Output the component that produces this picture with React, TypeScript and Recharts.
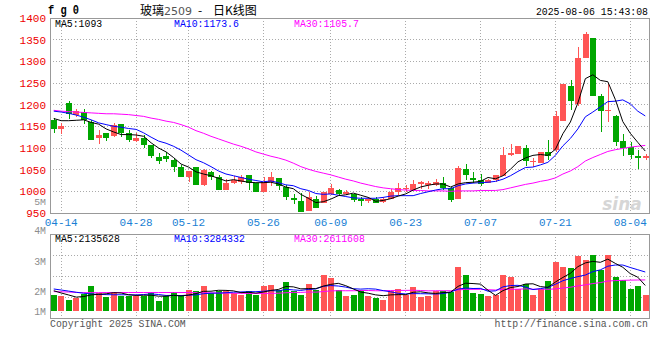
import React from 'react';
import { ComposedChart, Bar, Line, XAxis, YAxis, CartesianGrid, ReferenceArea, Cell } from 'recharts';

const dates = [
  '04-11', '04-14', '04-15', '04-16', '04-17', '04-18', '04-21', '04-22', '04-23', '04-24',
  '04-25', '04-28', '04-29', '04-30', '05-06', '05-07', '05-08', '05-09', '05-12', '05-13',
  '05-14', '05-15', '05-16', '05-19', '05-20', '05-21', '05-22', '05-23', '05-26', '05-27',
  '05-28', '05-29', '05-30', '06-03', '06-04', '06-05', '06-06', '06-09', '06-10', '06-11',
  '06-12', '06-13', '06-16', '06-17', '06-18', '06-19', '06-20', '06-23', '06-24', '06-25',
  '06-26', '06-27', '06-30', '07-01', '07-02', '07-03', '07-04', '07-07', '07-08', '07-09',
  '07-10', '07-11', '07-14', '07-15', '07-16', '07-17', '07-18', '07-21', '07-22', '07-23',
  '07-24', '07-25', '07-28', '07-29', '07-30', '07-31', '08-01', '08-04', '08-05', '08-06',
];
const tickDates = ['04-14', '04-28', '05-12', '05-26', '06-09', '06-23', '07-07', '07-21', '08-04'];

const open = [
  1164, 1144, 1204, 1177, 1184, 1159, 1122, 1135, 1128, 1155,
  1135, 1117, 1124, 1106, 1079, 1082, 1072, 1057, 1034, 1057,
  1015, 1044, 1034, 1004, 1019, 1021, 1037, 1019, 999, 1021,
  1030, 1009, 984, 977, 955, 983, 974, 995, 1002, 995,
  995, 983, 978, 983, 976, 982, 999, 1005, 1004, 1016,
  1015, 1015, 1019, 1007, 982, 1052, 1031, 1026, 1019, 1026,
  1035, 1085, 1087, 1100, 1067, 1066, 1091, 1095, 1162, 1242,
  1202, 1308, 1355, 1219, 1185, 1173, 1116, 1103, 1081, 1078,
];
const high = [
  1169, 1158, 1209, 1190, 1189, 1164, 1141, 1135, 1158, 1155,
  1141, 1134, 1130, 1106, 1088, 1091, 1077, 1060, 1047, 1057,
  1051, 1048, 1037, 1028, 1036, 1037, 1037, 1019, 1032, 1045,
  1030, 1015, 993, 997, 999, 989, 999, 1018, 1006, 1002,
  995, 987, 987, 987, 987, 1006, 1020, 1014, 1026, 1025,
  1025, 1028, 1032, 1009, 1058, 1063, 1044, 1040, 1028, 1038,
  1102, 1109, 1105, 1108, 1078, 1091, 1118, 1185, 1248, 1258,
  1334, 1368, 1355, 1225, 1248, 1177, 1133, 1113, 1095, 1087,
];
const low = [
  1135, 1132, 1168, 1172, 1156, 1119, 1110, 1117, 1126, 1126,
  1115, 1113, 1100, 1077, 1064, 1067, 1045, 1034, 1022, 1015,
  1013, 1026, 1002, 1004, 1017, 1017, 1003, 998, 999, 1012,
  1003, 979, 970, 952, 955, 961, 973, 991, 989, 991,
  976, 967, 972, 972, 974, 982, 991, 998, 1002, 1005,
  1005, 1013, 1004, 976, 982, 1026, 1019, 1013, 1019, 1021,
  1035, 1082, 1087, 1059, 1057, 1066, 1073, 1091, 1162, 1187,
  1198, 1308, 1220, 1137, 1160, 1105, 1081, 1074, 1051, 1072,
];
const close = [
  1145, 1150, 1179, 1185, 1164, 1119, 1130, 1122, 1152, 1134,
  1119, 1122, 1106, 1081, 1070, 1075, 1056, 1034, 1047, 1015,
  1049, 1034, 1004, 1019, 1027, 1034, 1019, 999, 1021, 1032,
  1013, 986, 980, 953, 987, 962, 999, 1007, 994, 999,
  980, 977, 982, 974, 983, 999, 1007, 1007, 1017, 1021,
  1019, 1022, 1007, 981, 1054, 1038, 1026, 1018, 1026, 1038,
  1084, 1089, 1105, 1070, 1069, 1091, 1081, 1174, 1248, 1208,
  1307, 1362, 1220, 1185, 1188, 1114, 1100, 1085, 1076, 1081,
];

const ma5 = [
  1168, 1163, 1163, 1164, 1165, 1159, 1155, 1144, 1137, 1131,
  1131, 1130, 1127, 1112, 1100, 1091, 1078, 1063, 1056, 1045,
  1040, 1036, 1030, 1024, 1027, 1024, 1021, 1020, 1020, 1021,
  1017, 1010, 1006, 993, 984, 974, 976, 982, 990, 992,
  996, 991, 986, 977, 979, 983, 989, 994, 1003, 1010,
  1014, 1017, 1017, 1010, 1017, 1020, 1021, 1023, 1032, 1029,
  1036, 1051, 1068, 1077, 1083, 1085, 1083, 1097, 1133, 1160,
  1204, 1260, 1269, 1256, 1253, 1212, 1161, 1134, 1113, 1093,
];
const ma10 = [
  1185, 1183, 1180, 1176, 1171, 1165, 1158, 1154, 1150, 1148,
  1145, 1143, 1135, 1125, 1116, 1111, 1104, 1095, 1084, 1073,
  1066, 1057, 1047, 1040, 1036, 1032, 1028, 1025, 1022, 1024,
  1020, 1015, 1013, 1006, 1002, 995, 993, 994, 991, 988,
  985, 984, 984, 984, 986, 989, 990, 990, 990, 995,
  999, 1003, 1006, 1006, 1013, 1017, 1019, 1020, 1021, 1023,
  1028, 1036, 1046, 1055, 1056, 1061, 1067, 1083, 1105, 1122,
  1144, 1172, 1183, 1195, 1207, 1208, 1211, 1202, 1185, 1174,
];
const ma30 = [
  1187, 1185, 1184, 1183, 1182, 1181, 1180, 1179, 1179, 1178,
  1177, 1175, 1173, 1169, 1166, 1162, 1159, 1154, 1148, 1140,
  1134, 1127, 1121, 1115, 1109, 1104, 1098, 1091, 1086, 1081,
  1077, 1072, 1065, 1057, 1051, 1046, 1042, 1038, 1033, 1028,
  1024, 1019, 1015, 1011, 1008, 1006, 1004, 1003, 1002, 1002,
  1001, 1001, 1001, 1000, 1001, 1001, 1001, 1002, 1002, 1002,
  1004, 1008, 1012, 1016, 1019, 1023, 1026, 1031, 1040, 1047,
  1057, 1070, 1078, 1085, 1092, 1096, 1099, 1102, 1104, 1106,
];

// volume in millions
const volume = [
  1.36, 1.21, 0.93, 1.07, 1.41, 2.06, 1.5, 1.13, 1.55, 1.27,
  1.27, 1.21, 1.27, 1.55, 0.85, 1.27, 1.55, 1.21, 1.72, 1.69,
  2.12, 1.5, 1.64, 1.64, 1.5, 1.36, 1.64, 1.3, 2.12, 2.2,
  1.72, 2.4, 1.64, 1.3, 2.29, 1.72, 3.05, 2.77, 1.78, 1.27,
  1.36, 1.72, 1.27, 1.07, 0.93, 1.69, 1.86, 1.36, 1.98, 1.13,
  1.21, 1.64, 1.69, 1.58, 3.67, 3.05, 1.5, 1.44, 1.21, 1.3,
  3.05, 2.82, 1.86, 2.29, 1.36, 1.86, 2.54, 4.1, 3.67, 3.62,
  4.6, 4.27, 4.75, 3.47, 4.75, 2.82, 2.63, 1.86, 2.12, 1.36,
];
const vma5 = [
  1.69, 1.5, 1.33, 1.15, 1.2, 1.34, 1.39, 1.43, 1.53, 1.5,
  1.35, 1.29, 1.31, 1.31, 1.23, 1.23, 1.3, 1.25, 1.32, 1.45,
  1.64, 1.65, 1.73, 1.72, 1.68, 1.53, 1.56, 1.49, 1.58, 1.72,
  1.8, 2.05, 2.02, 1.85, 1.87, 1.87, 2.08, 2.23, 2.32, 2.12,
  1.85, 1.58, 1.48, 1.34, 1.27, 1.34, 1.36, 1.36, 1.56, 1.6,
  1.51, 1.46, 1.53, 1.57, 2.06, 2.33, 2.3, 2.25, 1.73, 1.3,
  1.7, 1.96, 2.05, 2.26, 2.28, 2.04, 1.98, 2.43, 2.82, 3.17,
  3.73, 4.05, 4.18, 4.1, 4.37, 4.01, 3.68, 3.14, 2.84, 2.14,
];
const vma10 = [
  1.84, 1.75, 1.66, 1.56, 1.48, 1.42, 1.38, 1.36, 1.35, 1.35,
  1.35, 1.34, 1.37, 1.42, 1.37, 1.29, 1.3, 1.28, 1.32, 1.34,
  1.44, 1.48, 1.49, 1.52, 1.57, 1.59, 1.61, 1.61, 1.65, 1.7,
  1.67, 1.81, 1.76, 1.72, 1.8, 1.84, 2.07, 2.13, 2.09, 2.0,
  1.86, 1.83, 1.86, 1.83, 1.7, 1.6, 1.47, 1.42, 1.45, 1.44,
  1.43, 1.41, 1.45, 1.57, 1.83, 1.92, 1.88, 1.89, 1.65, 1.68,
  2.02, 2.13, 2.15, 2.0, 1.79, 1.87, 1.97, 2.24, 2.54, 2.73,
  2.89, 3.02, 3.31, 3.46, 3.77, 3.87, 3.87, 3.66, 3.47, 3.28,
];
const vma30 = [
  1.62, 1.6, 1.58, 1.55, 1.53, 1.53, 1.53, 1.54, 1.54, 1.54,
  1.54, 1.54, 1.54, 1.54, 1.54, 1.54, 1.54, 1.54, 1.54, 1.53,
  1.52, 1.51, 1.5, 1.49, 1.48, 1.47, 1.46, 1.46, 1.46, 1.47,
  1.48, 1.52, 1.55, 1.55, 1.58, 1.57, 1.62, 1.68, 1.69, 1.69,
  1.69, 1.71, 1.71, 1.69, 1.69, 1.71, 1.72, 1.72, 1.73, 1.71,
  1.68, 1.69, 1.69, 1.69, 1.76, 1.81, 1.81, 1.81, 1.78, 1.75,
  1.8, 1.81, 1.82, 1.85, 1.82, 1.83, 1.81, 1.85, 1.92, 1.99,
  2.1, 2.19, 2.3, 2.38, 2.51, 2.55, 2.57, 2.59, 2.6, 2.61,
];

const priceTicks = [950, 1000, 1050, 1100, 1150, 1200, 1250, 1300, 1350, 1400];
const volGridTicks = [1.16, 2.94, 4.72];
const volLabels = ['5M', '4M', '3M', '2M', '1M'];

const RED = '#ff5555';
const GREEN = '#00a600';
const BLUE_TICK = '#1a7fd4';
const MONO = '"Liberation Mono", "DejaVu Sans Mono", monospace';

const rows = dates.map((d, i) => ({
  i,
  date: d,
  open: open[i],
  high: high[i],
  low: low[i],
  close: close[i],
  range: [low[i], high[i]],
  up: close[i] >= open[i],
  ma5: ma5[i],
  ma10: ma10[i],
  ma30: ma30[i],
  vol: volume[i],
  vma5: vma5[i],
  vma10: vma10[i],
  vma30: vma30[i],
}));

const tickIdx = tickDates.map((d) => dates.indexOf(d));

const Candle = (props: any) => {
  const { x, y, width, height, payload } = props;
  if (x == null || y == null) return null;
  const { open: o, close: c, high: h, low: l } = payload;
  const color = c >= o ? RED : GREEN;
  const k = h === l ? 0 : height / (h - l);
  const bodyTop = y + (h - Math.max(o, c)) * k;
  const bodyH = Math.max(1, Math.abs(o - c) * k);
  const left = Math.round(x);
  return (
    <g shapeRendering="crispEdges">
      <rect x={left + Math.floor(width / 2)} y={y} width={1} height={Math.max(1, height)} fill={color} />
      <rect x={left} y={bodyTop} width={width} height={bodyH} fill={color} />
    </g>
  );
};

const MonoText = ({ x, y, children, fill = '#000', anchor = 'start', size = 10.5 }: any) => (
  <text
    x={x}
    y={y}
    fill={fill}
    fontFamily={MONO}
    fontSize={size}
    textAnchor={anchor}
    textLength={String(children).length * 5.9}
    lengthAdjust="spacingAndGlyphs"
  >
    {children}
  </text>
);

export default function App() {
  const last = rows.length - 1;
  return (
    <div style={{ position: 'absolute', left: 0, top: 0, width: 660, height: 360, background: '#fff' }}>
      <div style={{ position: 'absolute', left: 0, top: 0 }}>
        <ComposedChart width={660} height={230} data={rows} margin={{ top: 18, right: 11, left: 0, bottom: 0 }}>
          <CartesianGrid stroke="#aaaaaa" strokeDasharray="1 2" shapeRendering="crispEdges" />
          <XAxis
            dataKey="i"
            type="number"
            domain={[-0.5, 79.5]}
            ticks={tickIdx}
            interval={0}
            tickFormatter={(v: number) => dates[v]}
            height={17}
            tickLine={false}
            axisLine={false}
            tickSize={0}
            tickMargin={5}
            tick={{ fill: BLUE_TICK, fontSize: 11, fontFamily: MONO }}
            allowDataOverflow
          />
          <YAxis
            type="number"
            domain={[950, 1400]}
            ticks={priceTicks}
            interval={0}
            width={50}
            tickLine={false}
            axisLine={false}
            tickSize={0}
            tickMargin={4}
            tick={{ fill: '#ee0000', fontSize: 11, fontFamily: MONO }}
            allowDataOverflow
          />
          <ReferenceArea x1={-0.5} x2={79.5} y1={950} y2={1400} fill="none" stroke="#999" ifOverflow="visible" shapeRendering="crispEdges" />
          <Bar dataKey="range" barSize={6} shape={<Candle />} isAnimationActive={false} />
          <Line type="linear" dataKey="ma30" stroke="#ff00ff" strokeWidth={1} dot={false} isAnimationActive={false} />
          <Line type="linear" dataKey="ma10" stroke="#0000ff" strokeWidth={1} dot={false} isAnimationActive={false} />
          <Line type="linear" dataKey="ma5" stroke="#000000" strokeWidth={1} dot={false} isAnimationActive={false} />
        </ComposedChart>
      </div>

      <div style={{ position: 'absolute', left: 0, top: 230 }}>
        <ComposedChart width={660} height={130} data={rows} margin={{ top: 4, right: 11, left: 50, bottom: 42 }}>
          <CartesianGrid stroke="#aaaaaa" strokeDasharray="1 2" shapeRendering="crispEdges" />
          <XAxis dataKey="i" type="number" domain={[-0.5, 79.5]} ticks={tickIdx} interval={0} hide allowDataOverflow />
          <YAxis type="number" domain={[-0.62, 6.5]} ticks={volGridTicks} interval={0} hide allowDataOverflow />
          <ReferenceArea x1={-0.5} x2={79.5} y1={-0.62} y2={6.5} fill="none" stroke="#999" ifOverflow="visible" shapeRendering="crispEdges" />
          <Bar dataKey="vol" barSize={6} isAnimationActive={false} shapeRendering="crispEdges">
            {rows.map((r) => (
              <Cell key={r.i} fill={r.up ? RED : GREEN} />
            ))}
          </Bar>
          <Line type="linear" dataKey="vma30" stroke="#ff00ff" strokeWidth={1} dot={false} isAnimationActive={false} />
          <Line type="linear" dataKey="vma10" stroke="#0000ff" strokeWidth={1} dot={false} isAnimationActive={false} />
          <Line type="linear" dataKey="vma5" stroke="#000000" strokeWidth={1} dot={false} isAnimationActive={false} />
        </ComposedChart>
      </div>

      <svg width={660} height={360} style={{ position: 'absolute', left: 0, top: 0, pointerEvents: 'none' }}>
        <text x={48} y={14} fontFamily={MONO} fontSize={13} fontWeight="bold" textLength={31} lengthAdjust="spacingAndGlyphs">
          f g 0
        </text>
        <text x={140} y={15} fontFamily='"Noto Sans CJK SC", sans-serif' fontSize={12} fill="#000">
          玻璃<tspan fill="#555" fontFamily='"DejaVu Sans", sans-serif' fontSize={11}>2509</tspan>
        </text>
        <text x={200} y={15} textAnchor="middle" fontFamily='"Noto Sans CJK SC", sans-serif' fontSize={12} fill="#000">
          -
        </text>
        <text x={213} y={15} fontFamily='"Noto Sans CJK SC", sans-serif' fontSize={12} fill="#000">
          日K线图
        </text>
        <MonoText x={648} y={15} anchor="end">2025-08-06 15:43:08</MonoText>

        <MonoText x={55} y={27}>{`MA5:${ma5[last]}`}</MonoText>
        <MonoText x={174} y={27} fill="#0000ff">MA10:1173.6</MonoText>
        <MonoText x={294} y={27} fill="#ff00ff">MA30:1105.7</MonoText>

        <MonoText x={55} y={242}>MA5:2135628</MonoText>
        <MonoText x={174} y={242} fill="#0000ff">MA10:3284332</MonoText>
        <MonoText x={294} y={242} fill="#ff00ff">MA30:2611608</MonoText>

        {volLabels.map((t, k) => (
          <MonoText key={t} x={46} y={[205, 234, 265, 295, 315][k]} anchor="end" fill="#8c8c8c" size={k === 0 ? 9 : 10}>
            {t}
          </MonoText>
        ))}

        <text x={622} y={210} textAnchor="middle" fontFamily='"DejaVu Sans", sans-serif' fontSize={17} fontWeight="bold" fontStyle="italic" fill="#d6d6d6">
          sina
        </text>

        <MonoText x={50} y={327} fill="#555">Copyright 2025 SINA.COM</MonoText>
        <MonoText x={648} y={327} anchor="end" fill="#555" size={10}>http://finance.sina.com.cn</MonoText>
      </svg>
    </div>
  );
}
